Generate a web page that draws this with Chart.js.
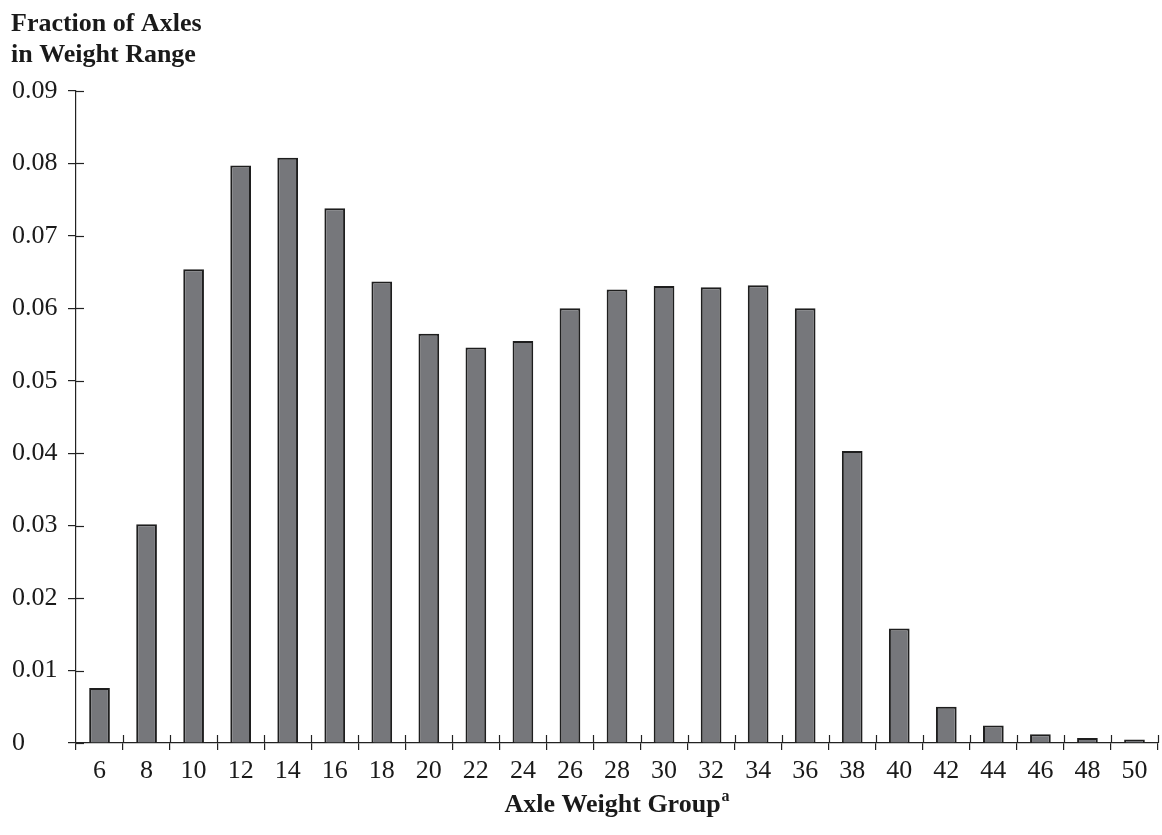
<!DOCTYPE html>
<html>
<head>
<meta charset="utf-8">
<script src="https://cdn.jsdelivr.net/npm/chart.js@4.4.1/dist/chart.umd.min.js"></script>
<style>
  html, body { margin: 0; padding: 0; background: #fff; }
  #wrap { width: 1162px; height: 835px; position: relative; }
</style>
</head>
<body>
<div id="wrap"><canvas id="chart"></canvas></div>
<script>
// axle weight groups (x categories)
const weightGroups = ['6', '8', '10', '12', '14', '16', '18', '20', '22', '24', '26', '28',
                      '30', '32', '34', '36', '38', '40', '42', '44', '46', '48', '50'];
// fraction of axles in each group
const axleFractions = [0.0076, 0.0302, 0.0654, 0.0797, 0.0808, 0.0738, 0.0637, 0.0565, 0.0546,
                       0.0555, 0.0600, 0.0626, 0.0631, 0.0629, 0.0632, 0.0600, 0.0403, 0.0158,
                       0.0050, 0.0024, 0.0012, 0.0007, 0.0005];
const yTitleLines = ['Fraction of Axles', 'in Weight Range'];
const xTitle = 'Axle Weight Group';
const xTitleNote = 'a';

const serif = '"Liberation Serif", "DejaVu Serif", serif';

// ticks that cross the axis lines + the titles
const decorPlugin = {
  id: 'decor',
  afterDraw(chart) {
    const ctx = chart.ctx;
    const xs = chart.scales.x, ys = chart.scales.y;
    const area = chart.chartArea;
    ctx.save();
    ctx.strokeStyle = '#222';
    ctx.lineWidth = 1.2;
    // inner half of y ticks
    ys.ticks.forEach((t, i) => {
      const y = Math.round(ys.getPixelForTick(i)) + 0.5;
      ctx.beginPath();
      ctx.moveTo(area.left, y);
      ctx.lineTo(area.left + 8, y);
      ctx.stroke();
    });
    // inner half of x ticks, on category boundaries
    const n = weightGroups.length;
    const w = (area.right - area.left) / n;
    for (let i = 1; i <= n; i++) {
      const x = Math.round(xs.getPixelForValue(i - 1) + w / 2) + 0.5;
      ctx.beginPath();
      ctx.moveTo(x, area.bottom);
      ctx.lineTo(x, area.bottom - 8);
      ctx.stroke();
    }
    // y title, top left
    ctx.fillStyle = '#1a1a1a';
    ctx.font = 'bold 26px ' + serif;
    ctx.textAlign = 'left';
    ctx.textBaseline = 'alphabetic';
    ctx.fillText(yTitleLines[0], 11, 31);
    ctx.fillText(yTitleLines[1], 11, 62);
    // x title with superscript note
    ctx.font = 'bold 26px ' + serif;
    const mainW = ctx.measureText(xTitle).width;
    ctx.font = 'bold 16px ' + serif;
    const noteW = ctx.measureText(xTitleNote).width;
    const cx = (area.left + area.right) / 2;
    const x0 = cx - (mainW + noteW + 1) / 2;
    ctx.font = 'bold 26px ' + serif;
    ctx.fillText(xTitle, x0, 812);
    ctx.font = 'bold 16px ' + serif;
    ctx.fillText(xTitleNote, x0 + mainW + 1, 801);
    ctx.restore();
  }
};

new Chart(document.getElementById('chart'), {
  type: 'bar',
  data: {
    labels: weightGroups,
    datasets: [{
      data: axleFractions,
      backgroundColor: '#76777b',
      borderColor: '#1e1e1e',
      borderWidth: 2,
      barPercentage: 0.44,
      categoryPercentage: 1.0
    }]
  },
  options: {
    responsive: true,
    maintainAspectRatio: false,
    animation: false,
    layout: { padding: { top: 91, left: 12, right: 4, bottom: 0 } },
    plugins: {
      legend: { display: false },
      tooltip: { enabled: false }
    },
    scales: {
      x: {
        offset: true,
        border: { color: '#222', width: 1.2 },
        grid: {
          offset: true,
          drawOnChartArea: false,
          color: '#222',
          lineWidth: 1.2,
          tickLength: 7
        },
        ticks: {
          color: '#1a1a1a',
          font: { family: serif, size: 26 },
          padding: 6,
          maxRotation: 0,
          autoSkip: false
        },
        afterFit: s => { s.height = 92; }
      },
      y: {
        min: 0,
        max: 0.09,
        border: { color: '#222', width: 1.2 },
        grid: {
          drawOnChartArea: false,
          color: '#222',
          lineWidth: 1.2,
          tickLength: 8
        },
        ticks: {
          stepSize: 0.01,
          color: '#1a1a1a',
          font: { family: serif, size: 26 },
          crossAlign: 'far',
          callback: v => v === 0 ? '0' : v.toFixed(2)
        },
        afterFit: s => { s.width = 64; }
      }
    }
  },
  plugins: [decorPlugin]
});
</script>
</body>
</html>
